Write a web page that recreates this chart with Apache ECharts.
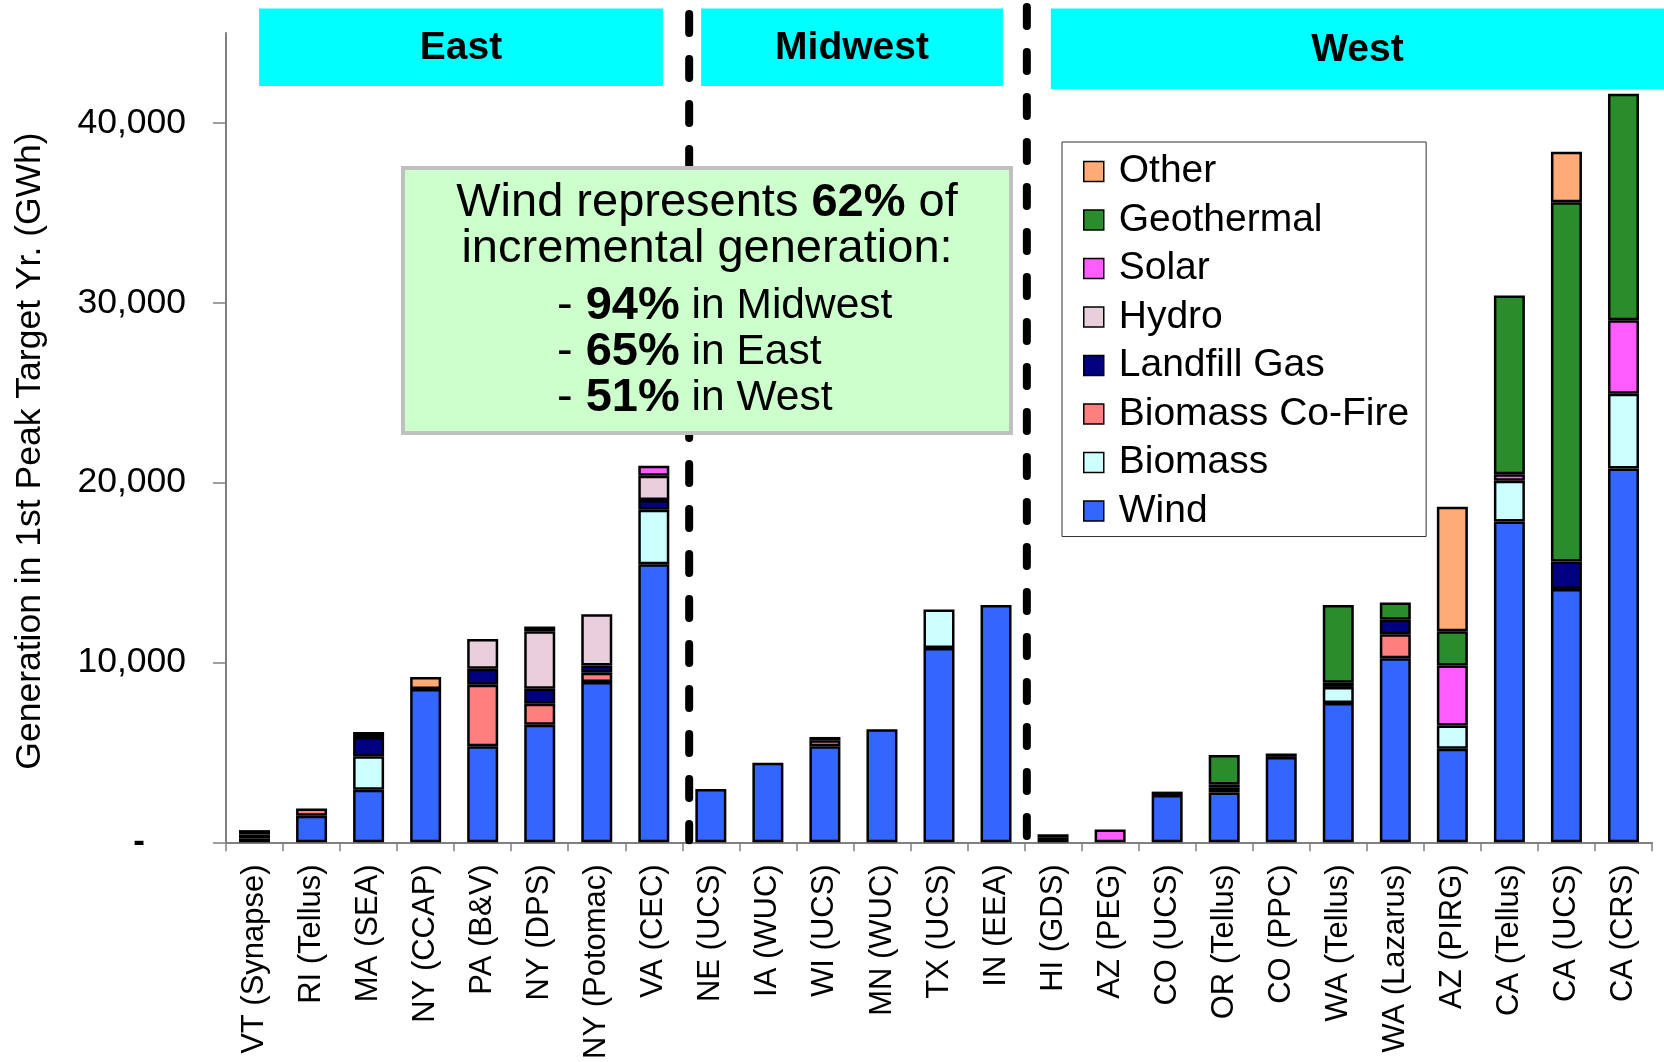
<!DOCTYPE html>
<html>
<head>
<meta charset="utf-8">
<title>Incremental renewable generation by study</title>
<script src="https://cdn.jsdelivr.net/npm/echarts@6/dist/echarts.min.js"></script>
<style>
  html, body { margin: 0; padding: 0; background: #ffffff; }
  #chart { width: 1664px; height: 1062px; }
</style>
</head>
<body>
<div id="chart"></div>
<script>
// ---- Data (GWh in 1st peak target year) ----
const categories = [
  'VT (Synapse)', 'RI (Tellus)', 'MA (SEA)', 'NY (CCAP)', 'PA (B&V)', 'NY (DPS)', 'NY (Potomac)', 'VA (CEC)',
  'NE (UCS)', 'IA (WUC)', 'WI (UCS)', 'MN (WUC)', 'TX (UCS)', 'IN (EEA)',
  'HI (GDS)', 'AZ (PEG)', 'CO (UCS)', 'OR (Tellus)', 'CO (PPC)', 'WA (Tellus)', 'WA (Lazarus)', 'AZ (PIRG)',
  'CA (Tellus)', 'CA (UCS)', 'CA (CRS)'
];
const wind          = [0, 1480, 2920, 8520, 5340, 6540, 8910, 15460, 2960, 4420, 5340, 6290, 10800, 13200, 250, 0, 2630, 2770, 4750, 7750, 10240, 5210, 17840, 14090, 20780];
const biomass       = [200, 0, 1870, 0, 0, 0, 0, 3030, 0, 0, 0, 0, 2140, 0, 0, 0, 0, 260, 0, 890, 0, 1290, 2260, 0, 4160];
const biomassCoFire = [0, 400, 0, 0, 3420, 1170, 520, 0, 0, 0, 330, 0, 0, 0, 0, 0, 0, 0, 0, 0, 1330, 0, 0, 0, 0];
const landfillGas   = [230, 0, 1070, 0, 890, 830, 400, 540, 0, 0, 190, 0, 0, 0, 200, 0, 190, 190, 190, 0, 810, 0, 0, 1520, 0];
const hydro         = [250, 0, 0, 0, 1660, 3200, 2850, 1350, 0, 0, 0, 0, 0, 0, 0, 0, 0, 0, 0, 0, 0, 0, 0, 0, 0];
const solar         = [0, 0, 0, 0, 0, 0, 0, 560, 0, 0, 0, 0, 0, 0, 0, 720, 0, 0, 0, 240, 0, 3330, 370, 0, 4090];
const geothermal    = [0, 0, 0, 0, 0, 0, 0, 0, 0, 0, 0, 0, 0, 0, 0, 0, 0, 1630, 0, 4320, 960, 1900, 9940, 19980, 12590];
const other         = [0, 0, 280, 680, 0, 260, 0, 0, 0, 0, 0, 0, 0, 0, 0, 0, 0, 0, 0, 0, 0, 6930, 0, 2810, 0];

const seriesNames  = ['Wind', 'Biomass', 'Biomass Co-Fire', 'Landfill Gas', 'Hydro', 'Solar', 'Geothermal', 'Other'];
const seriesValues = [wind, biomass, biomassCoFire, landfillGas, hydro, solar, geothermal, other];
const legendOrder  = ['Other', 'Geothermal', 'Solar', 'Hydro', 'Landfill Gas', 'Biomass Co-Fire', 'Biomass', 'Wind'];
const yTicks       = [0, 10000, 20000, 30000, 40000];

const regionNames  = ['East', 'Midwest', 'West'];
const yAxisTitle   = 'Generation in 1st Peak Target Yr. (GWh)';
const calloutHead  = ['Wind represents ', '62%', ' of', 'incremental generation:'];
const calloutRows  = [['94%', 'in Midwest'], ['65%', 'in East'], ['51%', 'in West']];

// ---- Styling ----
const FONT = '"Liberation Sans", Arial, Helvetica, sans-serif';
const colors = {
  'Wind': '#3366ff',
  'Biomass': '#ccffff',
  'Biomass Co-Fire': '#ff7e7e',
  'Landfill Gas': '#000080',
  'Hydro': '#e9cfdc',
  'Solar': '#ff5cff',
  'Geothermal': '#2a8c2a',
  'Other': '#ffab78'
};
const AXIS_GRAY = '#808080';

const chart = echarts.init(document.getElementById('chart'), null, { renderer: 'canvas' });

const series = seriesNames.map((name, i) => ({
  name: name,
  type: 'bar',
  stack: 'total',
  barWidth: 31,
  itemStyle: { color: colors[name], borderColor: '#000000', borderWidth: 2.5 },
  emphasis: { disabled: true },
  data: seriesValues[i].map(v => (v === 0 ? null : v))
}));

chart.setOption({
  animation: false,
  backgroundColor: '#ffffff',
  grid: { left: 226, right: 12, top: 33, bottom: 218, containLabel: false },
  legend: {
    data: legendOrder,
    orient: 'vertical',
    left: 1062,
    top: 142,
    padding: [10, 17, 6, 21],
    itemWidth: 20,
    itemHeight: 20,
    itemGap: 9.5,
    selectedMode: false,
    borderColor: '#333333',
    borderWidth: 1,
    backgroundColor: '#ffffff',
    icon: 'rect',
    itemStyle: { borderColor: '#000000', borderWidth: 1.5 },
    textStyle: { fontFamily: FONT, fontSize: 39, color: '#000000', lineHeight: 38, padding: [0, 0, 0, 10] }
  },
  xAxis: {
    type: 'category',
    data: categories,
    axisLine: { lineStyle: { color: AXIS_GRAY, width: 2 } },
    axisTick: { show: true, alignWithLabel: false, length: 9, lineStyle: { color: AXIS_GRAY, width: 1.5 } },
    axisLabel: { interval: 0, rotate: 90, margin: 22, fontFamily: FONT, fontSize: 31, color: '#000000' },
    splitLine: { show: false }
  },
  yAxis: {
    type: 'value',
    min: 0,
    max: 45000,
    interval: 10000,
    axisLine: { show: true, lineStyle: { color: AXIS_GRAY, width: 2 } },
    axisTick: { show: true, length: 13, customValues: yTicks, lineStyle: { color: AXIS_GRAY, width: 1.5 } },
    axisLabel: {
      customValues: yTicks,
      margin: 40,
      fontFamily: FONT,
      fontSize: 35.5,
      color: '#000000',
      formatter: v => (v === 0 ? '{z|-}' : Number(v).toLocaleString('en-US')),
      rich: { z: { fontFamily: FONT, fontSize: 35, color: '#000000', fontWeight: 'bold', padding: [0, 41, 0, 0] } }
    },
    splitLine: { show: false }
  },
  series: series
});

// ---- Decorations placed from the category axis scale ----
const c0 = chart.convertToPixel({ xAxisIndex: 0 }, categories[0]);
const c1 = chart.convertToPixel({ xAxisIndex: 0 }, categories[1]);
const step = c1 - c0;
const axisLeft = c0 - step / 2;
const xAt = u => axisLeft + u * step;   // u measured in category widths from the axis origin
const yBase = chart.convertToPixel({ yAxisIndex: 0 }, 0);

// region header bands (category-unit spans) and divider positions
const headerSpans = [[0.58, 7.66, 8.5, 86], [8.33, 13.62, 8.5, 86], [14.46, 25.3, 8.5, 89]];
const dividers = [[8.12, 10], [14.04, 3]];

const graphics = [];

dividers.forEach(([u, y0]) => {
  const x = xAt(u);
  graphics.push({
    type: 'line', silent: true, z: 5,
    shape: { x1: x, y1: y0 + 4, x2: x, y2: yBase + 2 - 4 },
    style: { stroke: '#000000', lineWidth: 8, lineDash: [19, 26], lineCap: 'round' }
  });
});

headerSpans.forEach(([u0, u1, y0, y1], i) => {
  const xa = xAt(u0);
  const xb = Math.min(xAt(u1), 1664);
  graphics.push({
    type: 'rect', silent: true, z: 6,
    shape: { x: xa, y: y0, width: xb - xa, height: y1 - y0 },
    style: { fill: '#00ffff', stroke: null }
  });
  graphics.push({
    type: 'text', silent: true, z: 7,
    x: (xa + xb) / 2, y: (y0 + y1) / 2 + 1,
    style: {
      text: regionNames[i], fill: '#000000',
      font: 'bold 39px ' + FONT, textAlign: 'center', textVerticalAlign: 'middle'
    }
  });
});

// callout box
const boxX = 403, boxY = 168, boxW = 608, boxH = 265;
graphics.push({
  type: 'rect', silent: true, z: 8,
  shape: { x: boxX, y: boxY, width: boxW, height: boxH },
  style: { fill: '#ccffcc', stroke: '#c0c0c0', lineWidth: 4 }
});
const rich = {
  r: { fontFamily: FONT, fontSize: 47, color: '#000000' },
  s: { fontFamily: FONT, fontSize: 42.5, color: '#000000' },
  b: { fontFamily: FONT, fontSize: 47, fontWeight: 'bold', color: '#000000' }
};
graphics.push({
  type: 'text', silent: true, z: 9,
  x: boxX + boxW / 2, y: 203,
  style: {
    text: '{r|' + calloutHead[0] + '}{b|' + calloutHead[1] + '}{r|' + calloutHead[2] + '}',
    rich: rich, textAlign: 'center', textVerticalAlign: 'middle'
  }
});
graphics.push({
  type: 'text', silent: true, z: 9,
  x: boxX + boxW / 2, y: 249,
  style: { text: '{r|' + calloutHead[3] + '}', rich: rich, textAlign: 'center', textVerticalAlign: 'middle' }
});
calloutRows.forEach(([pct, where], i) => {
  graphics.push({
    type: 'text', silent: true, z: 9,
    x: 557, y: 306 + i * 46,
    style: {
      text: '{r|- }{b|' + pct + '}{s| ' + where + '}',
      rich: rich, textAlign: 'left', textVerticalAlign: 'middle'
    }
  });
});

// rotated y-axis title
graphics.push({
  type: 'text', silent: true, z: 9,
  x: 30, y: 451, rotation: Math.PI / 2,
  style: {
    text: yAxisTitle, fill: '#000000',
    font: '35.5px ' + FONT, textAlign: 'center', textVerticalAlign: 'middle'
  }
});

chart.setOption({ graphic: { elements: graphics } });
</script>
</body>
</html>
